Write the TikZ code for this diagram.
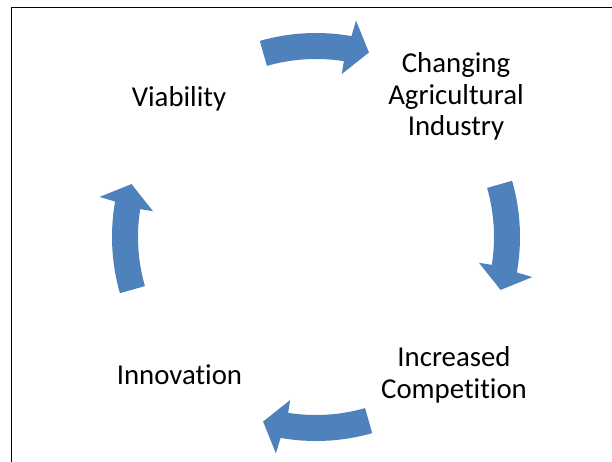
\documentclass[tikz,border=0pt]{standalone}
\usepackage{fontspec}
\setmainfont{Carlito}[Ligatures=NoCommon]
\definecolor{cycleblue}{RGB}{79,129,189}

\begin{document}
\begin{tikzpicture}[x=1pt, y=1pt,
    cyclearrow/.style={fill=cycleblue},
    cyclelabel/.style={inner sep=0pt, align=center, anchor=base, font=\fontsize{28.8}{31.4}\selectfont}]

    \useasboundingbox (0,0) rectangle (612,461);
    \draw[line width=1.5pt, line cap=rect] (11.5,0) -- (11.5,453.5) -- (612,453.5);

    \foreach \t in {90,0,-90,180}{
        \fill[cyclearrow, shift={(316,224)}] (\t+16:178) arc[start angle=\t+16, end angle=\t-9, radius=178]
            -- (\t-9:165) -- (\t-16:192) -- (\t-10.5:220) -- (\t-10:204)
            arc[start angle=\t-10, end angle=\t+16, radius=204] -- cycle;
    }

    \node[cyclelabel] (V) at (179,354.3) {Viability};
    \node[cyclelabel] (C) at (456,325.3) {Changing\\Agricultural\\Industry};
    \node[cyclelabel] (I) at (454,62.7) {Increased\\Competition};
    \node[cyclelabel] (N) at (179.5,76.8) {Innovation};
\end{tikzpicture}
\end{document}
